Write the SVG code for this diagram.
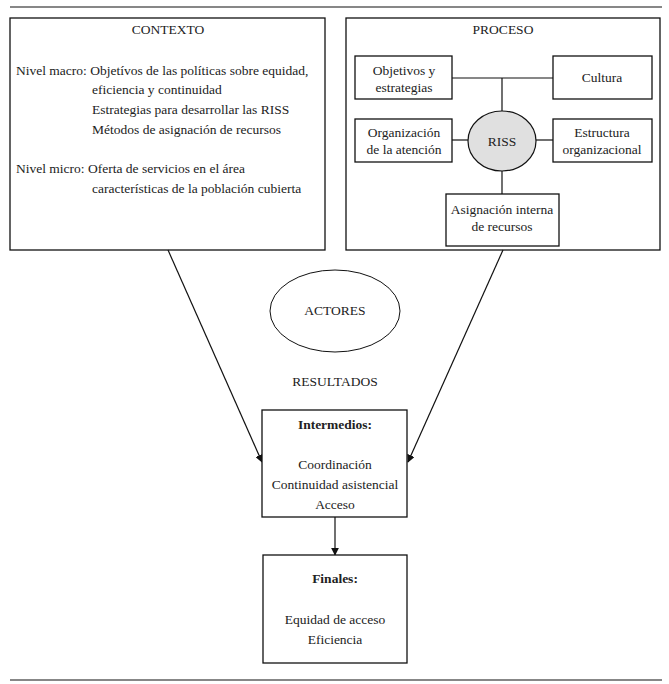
<svg xmlns="http://www.w3.org/2000/svg" width="669" height="684" viewBox="0 0 669 684">
<style>
text{font-family:"Liberation Serif","DejaVu Serif",serif;font-size:13.5px;fill:#222}
.c{text-anchor:middle}
.b{font-weight:bold}
.box{fill:#fff;stroke:#111;stroke-width:1.3}
.frame{fill:none;stroke:#111;stroke-width:1.3}
.ln{stroke:#111;stroke-width:1.2;fill:none}
</style>
<defs>
<marker id="ah" viewBox="0 0 10 10" refX="9" refY="5" markerWidth="8" markerHeight="8" orient="auto" markerUnits="userSpaceOnUse"><path d="M0,0 L10,5 L0,10 z" fill="#111"/></marker>
</defs>
<rect width="669" height="684" fill="#fff"/>
<line x1="10" y1="7" x2="662" y2="7" stroke="#111" stroke-width="1.2"/>
<line x1="10" y1="680" x2="662" y2="680" stroke="#111" stroke-width="1.2"/>
<g id="contexto">
<rect class="frame" x="10" y="18" width="315" height="232"/>
<text class="c" x="168" y="34">CONTEXTO</text>
<text x="16" y="75">Nivel macro: Objetívos de las políticas sobre equidad,</text>
<text x="92" y="94">eficiencia y continuidad</text>
<text x="92" y="114">Estrategias para desarrollar las RISS</text>
<text x="92" y="134">Métodos de asignación de recursos</text>
<text x="16" y="173">Nivel micro: Oferta de servicios en el área</text>
<text x="92" y="193">características de la población cubierta</text>
</g>
<g id="proceso">
<rect class="frame" x="346" y="18" width="314" height="232"/>
<text class="c" x="503" y="34">PROCESO</text>
</g>
<g id="connectors">
<line class="ln" x1="452" y1="78" x2="553" y2="78"/>
<line class="ln" x1="502" y1="78" x2="502" y2="111"/>
<line class="ln" x1="452" y1="140" x2="468" y2="140"/>
<line class="ln" x1="536" y1="140" x2="553" y2="140"/>
<line class="ln" x1="502" y1="170" x2="502" y2="194"/>
<line class="ln" x1="168" y1="250" x2="262" y2="462" stroke-width="0.9" marker-end="url(#ah)"/>
<line class="ln" x1="503" y1="250" x2="408" y2="462" stroke-width="0.9" marker-end="url(#ah)"/>
<line class="ln" x1="335" y1="517" x2="335" y2="555" marker-end="url(#ah)"/>
</g>
<g id="objetivos">
<rect class="box" x="355" y="56" width="97" height="43"/>
<text class="c" x="404" y="75">Objetivos y</text>
<text class="c" x="404" y="92">estrategias</text>
</g>
<g id="cultura">
<rect class="box" x="553" y="56" width="99" height="43"/>
<text class="c" x="602" y="82">Cultura</text>
</g>
<g id="organizacion">
<rect class="box" x="355" y="119" width="97" height="43"/>
<text class="c" x="404" y="137">Organización</text>
<text class="c" x="404" y="154">de la atención</text>
</g>
<g id="riss">
<ellipse cx="502" cy="141" rx="34" ry="30" fill="#e0e0e0" stroke="#111" stroke-width="1.2"/>
<text class="c" x="502" y="146">RISS</text>
</g>
<g id="estructura">
<rect class="box" x="553" y="119" width="99" height="43"/>
<text class="c" x="602" y="137">Estructura</text>
<text class="c" x="602" y="154">organizacional</text>
</g>
<g id="asignacion">
<rect class="box" x="446" y="194" width="113" height="52"/>
<text class="c" x="502" y="214">Asignación interna</text>
<text class="c" x="502" y="231">de recursos</text>
</g>
<g id="actores">
<ellipse cx="335" cy="311" rx="65" ry="41" fill="#fff" stroke="#111" stroke-width="1"/>
<text class="c" x="335" y="315">ACTORES</text>
</g>
<g id="resultados">
<text class="c" x="335" y="386">RESULTADOS</text>
</g>
<g id="intermedios">
<rect class="box" x="262" y="410" width="145" height="107"/>
<text class="c b" x="335" y="429">Intermedios:</text>
<text class="c" x="335" y="469">Coordinación</text>
<text class="c" x="335" y="489">Continuidad asistencial</text>
<text class="c" x="335" y="509">Acceso</text>
</g>
<g id="finales">
<rect class="box" x="263" y="555" width="144" height="108"/>
<text class="c b" x="335" y="583">Finales:</text>
<text class="c" x="335" y="624">Equidad de acceso</text>
<text class="c" x="335" y="644">Eficiencia</text>
</g>
</svg>
